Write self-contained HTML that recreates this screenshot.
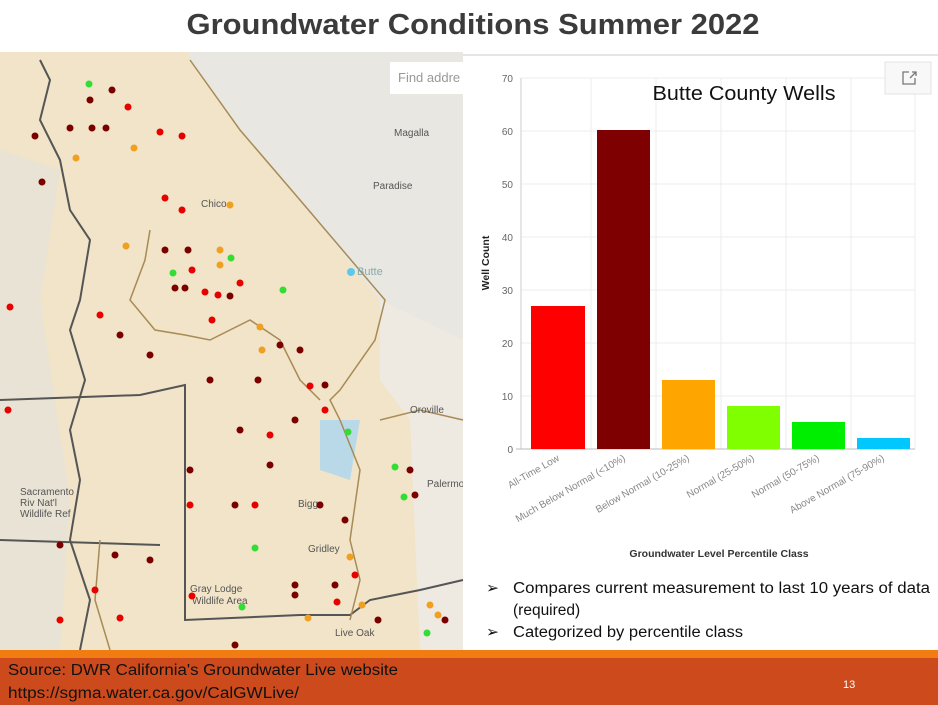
<!DOCTYPE html>
<html><head><style>body{margin:0;background:#fff}svg{display:block}</style></head><body>
<svg width="938" height="705" xmlns="http://www.w3.org/2000/svg" font-family="Liberation Sans, sans-serif">
<rect width="938" height="705" fill="#fff"/>
<text x="473" y="34" text-anchor="middle" font-size="29" font-weight="bold" fill="#3b3b3b" textLength="573" lengthAdjust="spacingAndGlyphs">Groundwater Conditions Summer 2022</text>
<!-- map -->
<g>
<rect x="0" y="52" width="463" height="598" fill="#f1e4c8"/>
<path d="M190,52 L463,52 L463,340 L380,300 L300,200 L240,130 L190,60Z" fill="#e9e7e2"/>
<path d="M380,300 L463,340 L463,650 L420,650 L410,420 L380,380Z" fill="#eeeae2"/>
<path d="M0,150 L60,170 L40,300 L70,500 L60,650 L0,650Z" fill="#e8e3d4"/>
<path d="M320,420 L360,420 L350,480 L320,470Z" fill="#b9d9e8"/>
<rect x="390" y="62" width="73" height="32" fill="#fff"/>
<text x="398" y="82" font-size="13" fill="#999">Find addre</text>
<g fill="none" stroke="#555" stroke-width="2">
<path d="M40,60 L50,80 L40,120 L60,160 L70,210 L90,240 L80,300 L70,330 L85,380 L70,430 L80,480 L70,540 L90,600 L80,650"/>
<path d="M0,400 L140,395 L185,385 L185,620 L300,615 L350,615 L370,600 L420,590 L463,580"/>
<path d="M0,540 L160,545"/>
</g>
<g fill="none" stroke="#a88a55" stroke-width="1.5">
<path d="M190,60 L240,130 L300,200 L385,300 L375,340 L340,390 L330,400 L340,420 L360,470 L350,540 L360,580 L350,620"/>
<path d="M150,230 L145,260 L130,300 L155,330 L185,335 L210,340 L250,320 L280,340 L300,380 L320,400"/>
<path d="M100,540 L95,600 L110,650"/>
<path d="M380,420 L420,410 L463,420"/>
</g>
<g font-size="10" fill="#555">
<text x="201" y="207">Chico</text><text x="394" y="136">Magalla</text><text x="373" y="189">Paradise</text>
<text x="357" y="275" fill="#8aa" font-size="11">Butte</text><text x="410" y="413">Oroville</text><text x="427" y="487">Palermo</text>
<text x="298" y="507">Biggs</text><text x="308" y="552">Gridley</text><text x="190" y="592">Gray Lodge</text><text x="192" y="604">Wildlife Area</text>
<text x="335" y="636">Live Oak</text><text x="20" y="495">Sacramento</text><text x="20" y="506">Riv Nat'l</text><text x="20" y="517">Wildlife Ref</text>
</g>
<g fill="#7a0000">
<circle cx="90" cy="100" r="3.5"/><circle cx="112" cy="90" r="3.5"/><circle cx="70" cy="128" r="3.5"/><circle cx="92" cy="128" r="3.5"/><circle cx="106" cy="128" r="3.5"/><circle cx="35" cy="136" r="3.5"/><circle cx="42" cy="182" r="3.5"/><circle cx="165" cy="250" r="3.5"/><circle cx="188" cy="250" r="3.5"/><circle cx="175" cy="288" r="3.5"/><circle cx="185" cy="288" r="3.5"/><circle cx="230" cy="296" r="3.5"/><circle cx="120" cy="335" r="3.5"/><circle cx="150" cy="355" r="3.5"/><circle cx="210" cy="380" r="3.5"/><circle cx="258" cy="380" r="3.5"/><circle cx="280" cy="345" r="3.5"/><circle cx="300" cy="350" r="3.5"/><circle cx="325" cy="385" r="3.5"/><circle cx="240" cy="430" r="3.5"/><circle cx="295" cy="420" r="3.5"/><circle cx="190" cy="470" r="3.5"/><circle cx="235" cy="505" r="3.5"/><circle cx="270" cy="465" r="3.5"/><circle cx="320" cy="505" r="3.5"/><circle cx="345" cy="520" r="3.5"/><circle cx="115" cy="555" r="3.5"/><circle cx="150" cy="560" r="3.5"/><circle cx="60" cy="545" r="3.5"/><circle cx="295" cy="585" r="3.5"/><circle cx="295" cy="595" r="3.5"/><circle cx="335" cy="585" r="3.5"/><circle cx="378" cy="620" r="3.5"/><circle cx="410" cy="470" r="3.5"/><circle cx="415" cy="495" r="3.5"/><circle cx="445" cy="620" r="3.5"/><circle cx="235" cy="645" r="3.5"/>
</g>
<g fill="#e60000">
<circle cx="128" cy="107" r="3.5"/><circle cx="160" cy="132" r="3.5"/><circle cx="182" cy="136" r="3.5"/><circle cx="165" cy="198" r="3.5"/><circle cx="182" cy="210" r="3.5"/><circle cx="192" cy="270" r="3.5"/><circle cx="205" cy="292" r="3.5"/><circle cx="218" cy="295" r="3.5"/><circle cx="240" cy="283" r="3.5"/><circle cx="212" cy="320" r="3.5"/><circle cx="10" cy="307" r="3.5"/><circle cx="100" cy="315" r="3.5"/><circle cx="310" cy="386" r="3.5"/><circle cx="325" cy="410" r="3.5"/><circle cx="270" cy="435" r="3.5"/><circle cx="190" cy="505" r="3.5"/><circle cx="255" cy="505" r="3.5"/><circle cx="8" cy="410" r="3.5"/><circle cx="95" cy="590" r="3.5"/><circle cx="120" cy="618" r="3.5"/><circle cx="60" cy="620" r="3.5"/><circle cx="337" cy="602" r="3.5"/><circle cx="192" cy="596" r="3.5"/><circle cx="355" cy="575" r="3.5"/>
</g>
<g fill="#f0a020">
<circle cx="76" cy="158" r="3.5"/><circle cx="134" cy="148" r="3.5"/><circle cx="230" cy="205" r="3.5"/><circle cx="220" cy="250" r="3.5"/><circle cx="220" cy="265" r="3.5"/><circle cx="126" cy="246" r="3.5"/><circle cx="260" cy="327" r="3.5"/><circle cx="262" cy="350" r="3.5"/><circle cx="350" cy="557" r="3.5"/><circle cx="362" cy="605" r="3.5"/><circle cx="430" cy="605" r="3.5"/><circle cx="438" cy="615" r="3.5"/><circle cx="308" cy="618" r="3.5"/>
</g>
<g fill="#33dd33">
<circle cx="89" cy="84" r="3.5"/><circle cx="173" cy="273" r="3.5"/><circle cx="231" cy="258" r="3.5"/><circle cx="283" cy="290" r="3.5"/><circle cx="348" cy="432" r="3.5"/><circle cx="395" cy="467" r="3.5"/><circle cx="404" cy="497" r="3.5"/><circle cx="255" cy="548" r="3.5"/><circle cx="242" cy="607" r="3.5"/><circle cx="427" cy="633" r="3.5"/>
</g>
<circle cx="351" cy="272" r="4" fill="#5cc8f0"/>
</g>
<!-- chart -->
<rect x="463" y="55" width="475" height="515" fill="#fff"/>
<line x1="463" y1="55" x2="938" y2="55" stroke="#e5e5e5" stroke-width="2"/>
<g stroke="#ececec" stroke-width="1">
<line x1="521" y1="78" x2="915" y2="78"/><line x1="521" y1="131" x2="915" y2="131"/><line x1="521" y1="184" x2="915" y2="184"/><line x1="521" y1="237" x2="915" y2="237"/><line x1="521" y1="290" x2="915" y2="290"/><line x1="521" y1="343" x2="915" y2="343"/><line x1="521" y1="396" x2="915" y2="396"/>
<line x1="591" y1="78" x2="591" y2="449"/><line x1="656" y1="78" x2="656" y2="449"/><line x1="721" y1="78" x2="721" y2="449"/><line x1="786" y1="78" x2="786" y2="449"/><line x1="851" y1="78" x2="851" y2="449"/><line x1="915" y1="78" x2="915" y2="449"/>
</g>
<line x1="521" y1="78" x2="521" y2="449" stroke="#ccc"/>
<line x1="516" y1="449" x2="915" y2="449" stroke="#bbb"/>
<g font-size="10" fill="#666" text-anchor="end">
<text x="513" y="82">70</text><text x="513" y="135">60</text><text x="513" y="188">50</text><text x="513" y="241">40</text><text x="513" y="294">30</text><text x="513" y="347">20</text><text x="513" y="400">10</text><text x="513" y="453">0</text>
</g>
<rect x="531" y="306" width="54" height="143" fill="#ff0000"/>
<rect x="597" y="130" width="53" height="319" fill="#7f0000"/>
<rect x="662" y="380" width="53" height="69" fill="#ffa500"/>
<rect x="727" y="406" width="53" height="43" fill="#80ff00"/>
<rect x="792" y="422" width="53" height="27" fill="#00ee00"/>
<rect x="857" y="438" width="53" height="11" fill="#00c8ff"/>
<g font-size="10" fill="#888" text-anchor="end">
<text transform="translate(560,460) rotate(-30)">All-Time Low</text>
<text transform="translate(626,460) rotate(-30)">Much Below Normal (&lt;10%)</text>
<text transform="translate(690,460) rotate(-30)">Below Normal (10-25%)</text>
<text transform="translate(755,460) rotate(-30)">Normal (25-50%)</text>
<text transform="translate(820,460) rotate(-30)">Normal (50-75%)</text>
<text transform="translate(885,460) rotate(-30)">Above Normal (75-90%)</text>
</g>
<text x="719" y="557" font-size="10.5" font-weight="bold" fill="#333" text-anchor="middle">Groundwater Level Percentile Class</text>
<text transform="translate(489,263) rotate(-90)" font-size="10.5" font-weight="bold" fill="#222" text-anchor="middle">Well Count</text>
<text x="744" y="100" font-size="20" fill="#111" text-anchor="middle" textLength="183" lengthAdjust="spacingAndGlyphs">Butte County Wells</text>
<rect x="885" y="62" width="46" height="32" fill="#f8f8f8" stroke="#e3e3e3"/>
<path d="M912,72 h4 v4 M916,72 l-6,6 M909,72 h-6 v12 h12 v-6" fill="none" stroke="#777" stroke-width="1.3"/>
<!-- bullets -->
<g font-size="15.5" fill="#111">
<text x="486" y="593">➢</text><text x="513" y="593" textLength="417" lengthAdjust="spacingAndGlyphs">Compares current measurement to last 10 years of data</text>
<text x="513" y="615">(required)</text>
<text x="486" y="637">➢</text><text x="513" y="637" textLength="230" lengthAdjust="spacingAndGlyphs">Categorized by percentile class</text>
</g>
<!-- footer -->
<rect x="0" y="650" width="938" height="8" fill="#f07c12"/>
<rect x="0" y="658" width="938" height="47" fill="#cc4a1c"/>
<g font-size="15.5" fill="#111"><text x="8" y="675" textLength="390" lengthAdjust="spacingAndGlyphs">Source: DWR  California's Groundwater Live website</text><text x="8" y="698" textLength="291" lengthAdjust="spacingAndGlyphs">https://sgma.water.ca.gov/CalGWLive/</text></g>
<text x="843" y="688" font-size="11" fill="#fff">13</text>
</svg>
</body></html>
